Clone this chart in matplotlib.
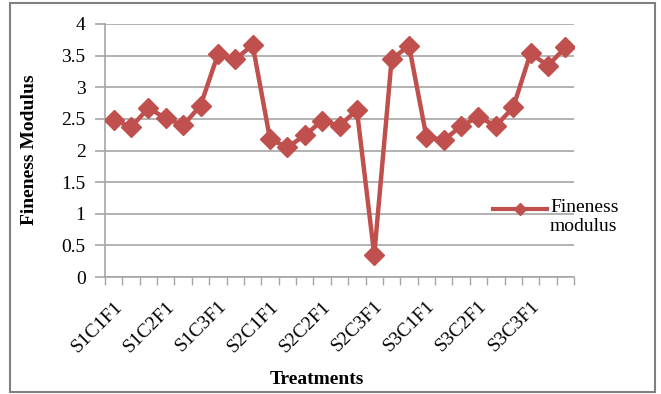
import matplotlib
matplotlib.use('Agg')
from matplotlib import pyplot
from matplotlib.lines import Line2D
from matplotlib.patches import Rectangle

# 処理区ごとの粗粒率
TREATMENTS = [f'S{s}C{c}F{f}' for s in (1, 2, 3) for c in (1, 2, 3) for f in (1, 2, 3)]
FINENESS = [2.49, 2.37, 2.67, 2.51, 2.40, 2.71, 3.52, 3.44, 3.67,
            2.18, 2.05, 2.24, 2.47, 2.39, 2.64, 0.35, 3.44, 3.66,
            2.22, 2.16, 2.39, 2.53, 2.39, 2.68, 3.54, 3.34, 3.63]
Y_TICKS = [0, 0.5, 1, 1.5, 2, 2.5, 3, 3.5, 4]
SERIES_NAME = 'Fineness\nmodulus'

LINE_COLOR = '#C0504D'
GRID_COLOR = '#A6A6A6'
FONT = 'Liberation Serif'
FONT_SIZE = 14

pyplot.rcParams['font.family'] = FONT

figure = pyplot.figure(figsize=(6.61, 3.94), dpi=100)
axes = figure.add_axes([105 / 661, 1 - 277 / 394, 469 / 661, 253 / 394])

x = list(range(len(TREATMENTS)))
axes.plot(x, FINENESS, color=LINE_COLOR, linewidth=3.2, marker='D',
          markersize=10, markerfacecolor=LINE_COLOR, markeredgecolor=LINE_COLOR, zorder=3)

axes.set_xlim(-0.5, len(TREATMENTS) - 0.5)
axes.set_ylim(0, 4)
axes.set_yticks(Y_TICKS)
axes.set_yticklabels([f'{v:g}' for v in Y_TICKS], fontsize=FONT_SIZE)
axes.yaxis.grid(True, color=GRID_COLOR, linewidth=1.2)
axes.set_axisbelow(True)

# 目盛りはカテゴリ境界、ラベルは3つおき
axes.set_xticks([i - 0.5 for i in range(len(TREATMENTS) + 1)])
axes.set_xticklabels([])
axes.set_xticks(x[::3], minor=True)
axes.set_xticklabels(TREATMENTS[::3], minor=True, rotation=45, ha='right',
                     rotation_mode='anchor', fontsize=FONT_SIZE)
axes.tick_params(axis='x', which='major', length=6, width=1, color=GRID_COLOR, direction='out')
axes.tick_params(axis='x', which='minor', length=0, pad=15)
axes.tick_params(axis='y', length=7, width=1.2, color=GRID_COLOR, pad=7)

for side in ('top', 'right'):
    axes.spines[side].set_visible(False)
for side in ('left', 'bottom'):
    axes.spines[side].set_color(GRID_COLOR)
    axes.spines[side].set_linewidth(1.2)

figure.text(30 / 661, 1 - 150 / 394, 'Fineness Modulus', rotation=90, ha='center', va='center',
            fontsize=FONT_SIZE, fontweight='bold')
figure.text(317 / 661, 1 - 380 / 394, 'Treatments', ha='center', va='center',
            fontsize=FONT_SIZE, fontweight='bold')

# 凡例（1行目の高さに線を合わせる）
figure.lines.append(Line2D([493 / 661, 547 / 661], [1 - 209 / 394] * 2,
                           transform=figure.transFigure, color=LINE_COLOR, linewidth=3))
figure.lines.append(Line2D([520 / 661], [1 - 209 / 394], transform=figure.transFigure,
                           marker='D', markersize=6, color=LINE_COLOR, linestyle='none'))
figure.text(550 / 661, 1 - 209 / 394, SERIES_NAME, ha='left', va='top', fontsize=FONT_SIZE,
            linespacing=1.15, transform=figure.transFigure).set_y(1 - 199 / 394)

# 外枠
figure.patches.append(Rectangle((10 / 661, 2 / 394), 645 / 661, 389 / 394,
                                transform=figure.transFigure, fill=False,
                                edgecolor='#808080', linewidth=1.5))

pyplot.savefig('out.png', dpi=100)
